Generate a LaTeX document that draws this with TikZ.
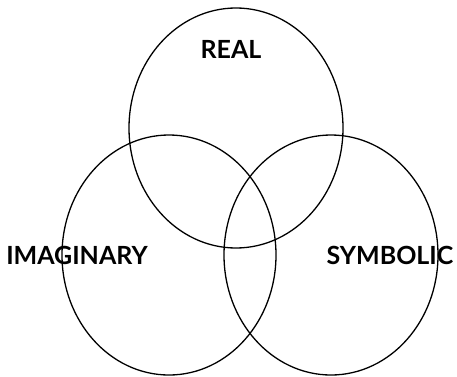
\documentclass[tikz,border=0pt]{standalone}
\usepackage{fontspec}
\setsansfont{Lato}
\usepackage{tikz}
\usetikzlibrary{calc}

\tikzset{
    ring/.style={line width=1.3pt, black},
    realm/.style={font=\sffamily\bfseries\fontsize{25}{25}\selectfont, inner sep=0pt}
}

\begin{document}
\begin{tikzpicture}[x=1pt, y=1pt]
    \useasboundingbox (0,0) rectangle (457,376);
    % Centres of the three rings
    \coordinate (R) at (236,248);
    \coordinate (I) at (169,121);
    \coordinate (S) at (331,121);

    % Rings
    \draw[ring] (R) ellipse [x radius=107, y radius=120];
    \draw[ring] (I) ellipse [x radius=107, y radius=120];
    \draw[ring] (S) ellipse [x radius=107, y radius=120];

    % Labels
    \node[realm] (real) at (231,327) {REAL};
    \node[realm] (imag) at (77,121) {IMAGINARY};
    \node[realm] (symb) at (390,121) {SYMBOLIC};
\end{tikzpicture}
\end{document}
